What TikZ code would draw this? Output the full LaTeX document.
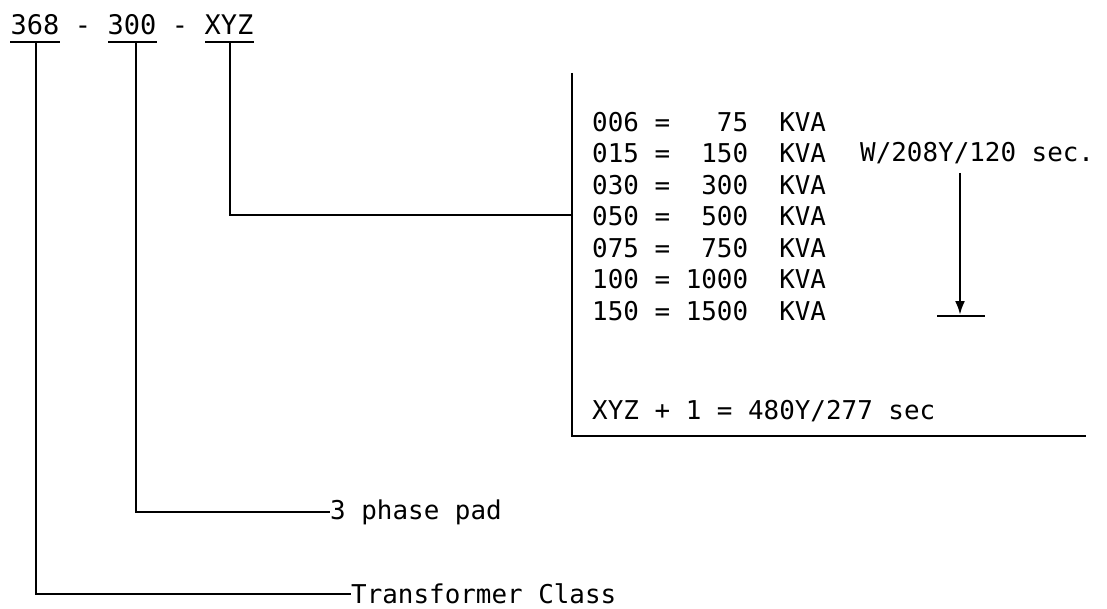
\documentclass[tikz,border=0pt]{standalone}
\usepackage{fontspec}
\newfontfamily\tw{DejaVu Sans Mono}
\usetikzlibrary{arrows.meta}
\begin{document}
\begin{tikzpicture}[x=1pt,y=-1pt,
  txt/.style={inner sep=0pt,font=\tw\fontsize{25.9}{25.9}\selectfont},
  head/.style={inner sep=0pt,font=\tw\fontsize{27}{27}\selectfont},
  ln/.style={line width=2.5pt},
  every node/.style={inner sep=0pt}]
\useasboundingbox (0,0) rectangle (1107,609);
% heading
\node[head,anchor=base] (n368) at (35,35) {368};
\node[head,anchor=base] (d1) at (83,35) {-};
\node[head,anchor=base] (n300) at (132,35) {300};
\node[head,anchor=base] (d2) at (180,35) {-};
\node[head,anchor=base] (nxyz) at (229,35) {XYZ};
\draw[ln] (10,42) -- (60,42);
\draw[ln] (108,42) -- (157,42);
\draw[ln] (205,42) -- (254,42);
% labels
\node[txt,anchor=west] (tc) at (351,594) {Transformer Class};
\node[txt,anchor=west] (pp) at (330,512) {3 phase pad};
% connectors
\coordinate (a1) at (36,42);
\coordinate (a2) at (136,42);
\coordinate (a3) at (230,42);
\draw[ln] (a1) |- (tc.west);
\draw[ln] (a2) |- (pp.west);
\coordinate (br) at (572,215);
\draw[ln] (a3) |- (br);
% bracket
\coordinate (btop) at (572,73);
\coordinate (bbot) at (572,436);
\coordinate (bend) at (1086,436);
\draw[ln] (btop) -- (bbot) -- (bend);
% table
\foreach \t [count=\i from 0] in {006 =\ \ \ 75\ \ KVA,015 =\ \ 150\ \ KVA,030 =\ \ 300\ \ KVA,050 =\ \ 500\ \ KVA,075 =\ \ 750\ \ KVA,100 = 1000\ \ KVA,150 = 1500\ \ KVA}
  \node[txt,anchor=west] (r\i) at (592,{122+31.5*\i}) {\t};
\node[txt,anchor=west] (w) at (860,153.5) {W/208Y/120 sec.};
\node[txt,anchor=west] (x1) at (592,411) {XYZ + 1 = 480Y/277 sec};
% arrow
\coordinate (at) at (960,173);
\coordinate (ab) at (960,315);
\draw[line width=2.5pt,-{Latex[length=14pt,width=10pt]}] (at) -- (ab);
\draw[ln] (937,316) -- (985,316);
\end{tikzpicture}
\end{document}
